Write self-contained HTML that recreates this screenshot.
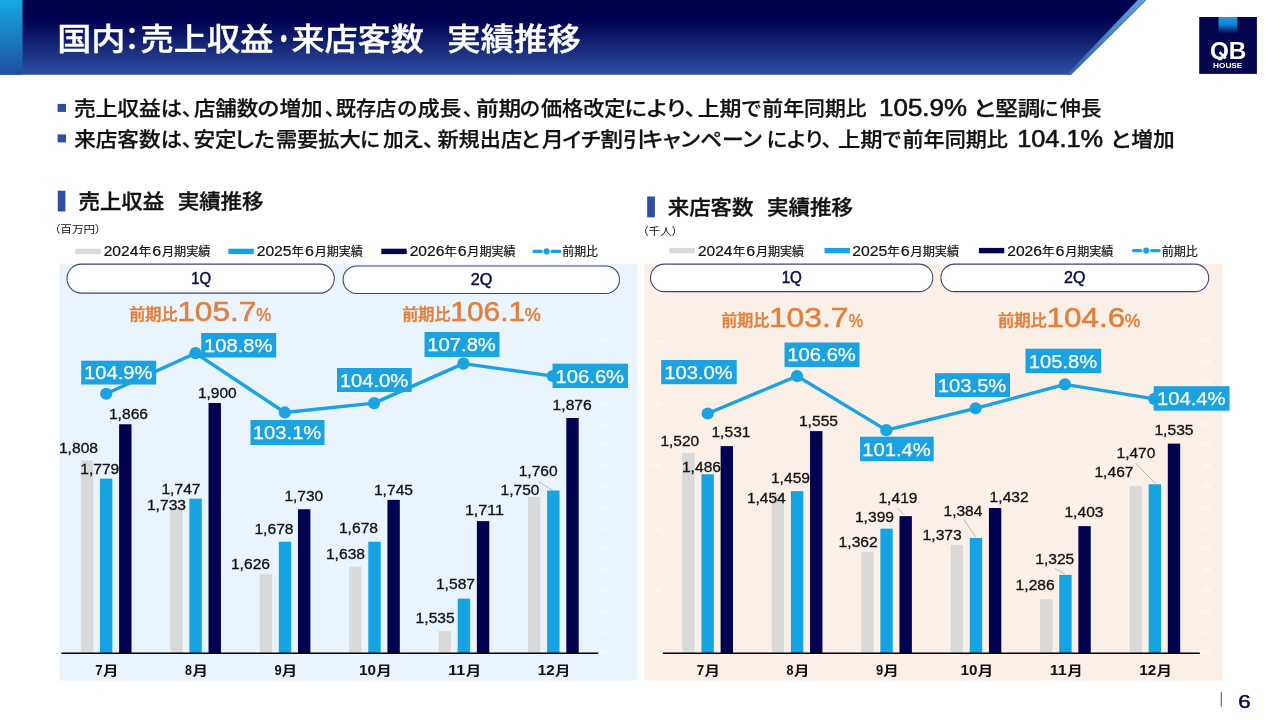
<!DOCTYPE html>
<html lang="ja"><head><meta charset="utf-8"><title>国内：売上収益・来店客数 実績推移</title>
<style>
html,body{margin:0;padding:0;background:#fff;}
body{width:1280px;height:720px;overflow:hidden;}
svg{display:block;font-family:"Liberation Sans", "Noto Sans CJK JP", sans-serif;}
text{white-space:pre;}
.p{font-feature-settings:"palt" 1;}
</style></head><body>
<svg width="1280" height="720" viewBox="0 0 1280 720">
<defs>
<linearGradient id="hg" x1="0" y1="0" x2="0" y2="1">
<stop offset="0" stop-color="#00004f"/><stop offset="0.25" stop-color="#00004f"/><stop offset="1" stop-color="#2e50a1"/>
</linearGradient>
<linearGradient id="lg" x1="0" y1="0" x2="0" y2="1">
<stop offset="0" stop-color="#16aae3"/><stop offset="1" stop-color="#204f9c"/>
</linearGradient>
<linearGradient id="sg" x1="0" y1="0" x2="0" y2="1">
<stop offset="0" stop-color="#5f9fd8"/><stop offset="1" stop-color="#3560b0"/>
</linearGradient>
<linearGradient id="qg" x1="0" y1="0" x2="0" y2="1">
<stop offset="0" stop-color="#1a9de2"/><stop offset="0.45" stop-color="#1484d0"/><stop offset="1" stop-color="#06064e"/>
</linearGradient>
<clipPath id="qc"><rect x="1200" y="30" width="57" height="30.2"/></clipPath>
</defs>
<polygon points="0,0 1146.2,0 1071,74.7 0,74.7" fill="url(#hg)"/>
<polygon points="1137.7,0 1146.2,0 1071,74.7 1066.5,74.7" fill="url(#sg)"/>
<rect x="0" y="0" width="22.5" height="74.7" fill="url(#lg)"/>
<text y="50.20" font-size="30.5" font-weight="500" fill="#fff" class="p" stroke="#fff" stroke-width="0.4"><tspan x="57.21" textLength="68.17" lengthAdjust="spacingAndGlyphs">国内</tspan><tspan x="124.84" textLength="14.52" lengthAdjust="spacingAndGlyphs">：</tspan><tspan x="140.64" textLength="132.67" lengthAdjust="spacingAndGlyphs">売上収益</tspan><tspan x="278.13" textLength="10.94" lengthAdjust="spacingAndGlyphs">・</tspan><tspan x="291.52" textLength="132.30" lengthAdjust="spacingAndGlyphs">来店客数</tspan><tspan x="424.00">　</tspan><tspan x="447.36" textLength="133.51" lengthAdjust="spacingAndGlyphs">実績推移</tspan></text>
<rect x="1199.2" y="17" width="57.7" height="56.9" fill="#06064e"/>
<rect x="1218.5" y="17" width="18.8" height="16.5" fill="url(#qg)"/>
<text x="1209.91" y="58.90" textLength="36.41" lengthAdjust="spacingAndGlyphs" font-size="24.6" font-weight="700" fill="#fff" clip-path="url(#qc)">QB</text>
<line x1="1219.6" y1="52.2" x2="1225.6" y2="58.4" stroke="#fff" stroke-width="2.6"/>
<text x="1213.03" y="67.60" textLength="29.33" lengthAdjust="spacingAndGlyphs" font-size="7.2" font-weight="700" fill="#fff">HOUSE</text>
<rect x="57.6" y="103.9" width="8.4" height="8.0" fill="#2f4ea3"/>
<rect x="57.6" y="134.4" width="8.4" height="8.0" fill="#2f4ea3"/>
<text y="116.40" font-size="20.7" font-weight="500" fill="#111" class="p" stroke="#111" stroke-width="0.25"><tspan x="73.95" textLength="86.85" lengthAdjust="spacingAndGlyphs">売上収益</tspan><tspan x="160.68" textLength="32.00" lengthAdjust="spacingAndGlyphs">は、</tspan><tspan x="193.92" textLength="64.17" lengthAdjust="spacingAndGlyphs">店舗数</tspan><tspan x="257.34" textLength="21.78" lengthAdjust="spacingAndGlyphs">の</tspan><tspan x="279.52" textLength="43.19" lengthAdjust="spacingAndGlyphs">増加</tspan><tspan x="325.00">、</tspan><tspan x="335.77" textLength="60.54" lengthAdjust="spacingAndGlyphs">既存店</tspan><tspan x="397.25" textLength="19.95" lengthAdjust="spacingAndGlyphs">の</tspan><tspan x="417.71" textLength="43.73" lengthAdjust="spacingAndGlyphs">成長</tspan><tspan x="463.00">、</tspan><tspan x="475.91" textLength="45.11" lengthAdjust="spacingAndGlyphs">前期</tspan><tspan x="519.94" textLength="20.07" lengthAdjust="spacingAndGlyphs">の</tspan><tspan x="540.99" textLength="84.49" lengthAdjust="spacingAndGlyphs">価格改定</tspan><tspan x="624.49" textLength="71.68" lengthAdjust="spacingAndGlyphs">により、</tspan><tspan x="697.69" textLength="43.78" lengthAdjust="spacingAndGlyphs">上期</tspan><tspan x="741.74" textLength="19.39" lengthAdjust="spacingAndGlyphs">で</tspan><tspan x="762.39" textLength="104.26" lengthAdjust="spacingAndGlyphs">前年同期比</tspan><tspan x="869.00"> </tspan><tspan x="879.11" font-size="24.0" stroke-width="0.6" textLength="87.87" lengthAdjust="spacingAndGlyphs">105.9%</tspan><tspan x="968.00"> </tspan><tspan x="973.03" textLength="22.29" lengthAdjust="spacingAndGlyphs">と</tspan><tspan x="995.21" textLength="45.05" lengthAdjust="spacingAndGlyphs">堅調</tspan><tspan x="1038.78" textLength="19.62" lengthAdjust="spacingAndGlyphs">に</tspan><tspan x="1060.05" textLength="41.44" lengthAdjust="spacingAndGlyphs">伸長</tspan></text>
<text y="147.40" font-size="20.7" font-weight="500" fill="#111" class="p" stroke="#111" stroke-width="0.25"><tspan x="74.22" textLength="86.32" lengthAdjust="spacingAndGlyphs">来店客数</tspan><tspan x="160.68" textLength="32.00" lengthAdjust="spacingAndGlyphs">は、</tspan><tspan x="193.40" textLength="43.03" lengthAdjust="spacingAndGlyphs">安定</tspan><tspan x="235.31" textLength="39.55" lengthAdjust="spacingAndGlyphs">した</tspan><tspan x="275.92" textLength="84.87" lengthAdjust="spacingAndGlyphs">需要拡大</tspan><tspan x="360.28" textLength="19.62" lengthAdjust="spacingAndGlyphs">に</tspan><tspan x="383.00" textLength="20.70" lengthAdjust="spacingAndGlyphs">加</tspan><tspan x="402.60" textLength="31.48" lengthAdjust="spacingAndGlyphs">え、</tspan><tspan x="437.49" textLength="84.55" lengthAdjust="spacingAndGlyphs">新規出店</tspan><tspan x="520.32" textLength="19.25" lengthAdjust="spacingAndGlyphs">と</tspan><tspan x="541.70" textLength="21.96" lengthAdjust="spacingAndGlyphs">月</tspan><tspan x="562.27" textLength="38.38" lengthAdjust="spacingAndGlyphs">イチ</tspan><tspan x="600.41" textLength="45.00" lengthAdjust="spacingAndGlyphs">割引</tspan><tspan x="642.42" textLength="119.54" lengthAdjust="spacingAndGlyphs">キャンペーン</tspan><tspan x="766.70" textLength="65.66" lengthAdjust="spacingAndGlyphs">により、</tspan><tspan x="837.92" textLength="44.57" lengthAdjust="spacingAndGlyphs">上期</tspan><tspan x="882.26" textLength="18.86" lengthAdjust="spacingAndGlyphs">で</tspan><tspan x="902.48" textLength="105.48" lengthAdjust="spacingAndGlyphs">前年同期比</tspan><tspan x="1009.00"> </tspan><tspan x="1017.15" font-size="24.0" stroke-width="0.6" textLength="86.01" lengthAdjust="spacingAndGlyphs">104.1%</tspan><tspan x="1104.00"> </tspan><tspan x="1110.14" textLength="20.26" lengthAdjust="spacingAndGlyphs">と</tspan><tspan x="1131.21" textLength="43.51" lengthAdjust="spacingAndGlyphs">増加</tspan></text>
<rect x="57.8" y="190.7" width="7.6" height="20.8" fill="#2f4ea3"/>
<text y="209.20" font-size="20.7" font-weight="500" fill="#111" class="p" stroke="#111" stroke-width="0.35"><tspan x="78.57" textLength="85.63" lengthAdjust="spacingAndGlyphs">売上収益</tspan><tspan x="164.00">　</tspan><tspan x="177.70" textLength="85.89" lengthAdjust="spacingAndGlyphs">実績推移</tspan></text>
<text y="232.70" font-size="10.3" font-weight="400" fill="#111" class="p"><tspan x="54.48" textLength="46.47" lengthAdjust="spacingAndGlyphs">（百万円）</tspan></text>
<rect x="647.2" y="196.5" width="7.7" height="20.8" fill="#2f4ea3"/>
<text y="214.90" font-size="20.7" font-weight="500" fill="#111" class="p" stroke="#111" stroke-width="0.35"><tspan x="667.72" textLength="85.71" lengthAdjust="spacingAndGlyphs">来店客数</tspan><tspan x="753.50">　</tspan><tspan x="767.10" textLength="85.94" lengthAdjust="spacingAndGlyphs">実績推移</tspan></text>
<text y="235.10" font-size="10.3" font-weight="400" fill="#111" class="p"><tspan x="642.53" textLength="35.41" lengthAdjust="spacingAndGlyphs">（千人）</tspan></text>
<rect x="75.50" y="248.70" width="25.4" height="5.4" fill="#d9d9d9"/>
<text y="256.40" font-size="12.3" font-weight="400" fill="#111" stroke="#111" stroke-width="0.2"><tspan x="103.66" font-size="14" textLength="34.78" lengthAdjust="spacingAndGlyphs">2024</tspan><tspan x="138.58" textLength="12.69" lengthAdjust="spacingAndGlyphs">年</tspan><tspan x="152.25" font-size="14" textLength="8.95" lengthAdjust="spacingAndGlyphs">6</tspan><tspan x="161.90" textLength="48.55" lengthAdjust="spacingAndGlyphs">月期実績</tspan></text>
<rect x="228.30" y="248.70" width="25.4" height="5.4" fill="#15a3e1"/>
<text y="256.40" font-size="12.3" font-weight="400" fill="#111" stroke="#111" stroke-width="0.2"><tspan x="256.66" font-size="14" textLength="34.90" lengthAdjust="spacingAndGlyphs">2025</tspan><tspan x="291.42" textLength="12.63" lengthAdjust="spacingAndGlyphs">年</tspan><tspan x="305.03" font-size="14" textLength="8.91" lengthAdjust="spacingAndGlyphs">6</tspan><tspan x="314.63" textLength="48.32" lengthAdjust="spacingAndGlyphs">月期実績</tspan></text>
<rect x="381.30" y="248.70" width="25.4" height="5.4" fill="#02024f"/>
<text y="256.40" font-size="12.3" font-weight="400" fill="#111" stroke="#111" stroke-width="0.2"><tspan x="409.66" font-size="14" textLength="34.74" lengthAdjust="spacingAndGlyphs">2026</tspan><tspan x="444.26" textLength="12.57" lengthAdjust="spacingAndGlyphs">年</tspan><tspan x="457.80" font-size="14" textLength="8.87" lengthAdjust="spacingAndGlyphs">6</tspan><tspan x="467.36" textLength="48.09" lengthAdjust="spacingAndGlyphs">月期実績</tspan></text>
<line x1="534.00" y1="251.4" x2="541.20" y2="251.4" stroke="#1aa3e0" stroke-width="3.2" stroke-linecap="round"/>
<line x1="552.00" y1="251.4" x2="559.70" y2="251.4" stroke="#1aa3e0" stroke-width="3.2" stroke-linecap="round"/>
<circle cx="546.60" cy="251.4" r="3.1" fill="#1aa3e0"/>
<text x="562.28" y="256.40" textLength="35.62" lengthAdjust="spacingAndGlyphs" font-size="12.3" font-weight="400" fill="#111" stroke="#111" stroke-width="0.2">前期比</text>
<rect x="669.50" y="247.90" width="25.4" height="5.4" fill="#d9d9d9"/>
<text y="255.60" font-size="12.3" font-weight="400" fill="#111" stroke="#111" stroke-width="0.2"><tspan x="697.92" font-size="14" textLength="34.61" lengthAdjust="spacingAndGlyphs">2024</tspan><tspan x="732.67" textLength="12.63" lengthAdjust="spacingAndGlyphs">年</tspan><tspan x="746.28" font-size="14" textLength="8.91" lengthAdjust="spacingAndGlyphs">6</tspan><tspan x="755.88" textLength="48.32" lengthAdjust="spacingAndGlyphs">月期実績</tspan></text>
<rect x="824.50" y="247.90" width="25.4" height="5.4" fill="#15a3e1"/>
<text y="255.60" font-size="12.3" font-weight="400" fill="#111" stroke="#111" stroke-width="0.2"><tspan x="852.15" font-size="14" textLength="35.15" lengthAdjust="spacingAndGlyphs">2025</tspan><tspan x="887.16" textLength="12.72" lengthAdjust="spacingAndGlyphs">年</tspan><tspan x="900.87" font-size="14" textLength="8.97" lengthAdjust="spacingAndGlyphs">6</tspan><tspan x="910.54" textLength="48.66" lengthAdjust="spacingAndGlyphs">月期実績</tspan></text>
<rect x="978.90" y="247.90" width="25.4" height="5.4" fill="#02024f"/>
<text y="255.60" font-size="12.3" font-weight="400" fill="#111" stroke="#111" stroke-width="0.2"><tspan x="1007.16" font-size="14" textLength="34.90" lengthAdjust="spacingAndGlyphs">2026</tspan><tspan x="1041.92" textLength="12.63" lengthAdjust="spacingAndGlyphs">年</tspan><tspan x="1055.53" font-size="14" textLength="8.91" lengthAdjust="spacingAndGlyphs">6</tspan><tspan x="1065.13" textLength="48.32" lengthAdjust="spacingAndGlyphs">月期実績</tspan></text>
<line x1="1133.50" y1="250.6" x2="1140.80" y2="250.6" stroke="#1aa3e0" stroke-width="3.2" stroke-linecap="round"/>
<line x1="1151.60" y1="250.6" x2="1159.00" y2="250.6" stroke="#1aa3e0" stroke-width="3.2" stroke-linecap="round"/>
<circle cx="1146.20" cy="250.6" r="3.1" fill="#1aa3e0"/>
<text x="1161.77" y="255.60" textLength="36.13" lengthAdjust="spacingAndGlyphs" font-size="12.3" font-weight="400" fill="#111" stroke="#111" stroke-width="0.2">前期比</text>
<rect x="59.5" y="264" width="577.5" height="416.5" fill="#e9f4fc"/>
<rect x="67" y="264.1" width="267.3" height="29.0" rx="14.5" fill="#fff" stroke="#3f4379" stroke-width="1.05"/>
<text x="191.21" y="284.20" textLength="19.87" lengthAdjust="spacingAndGlyphs" font-size="15.6" font-weight="400" fill="#0d0f4d" stroke="#0d0f4d" stroke-width="0.5">1Q</text>
<rect x="343.1" y="265.9" width="276.4" height="27.5" rx="13.75" fill="#fff" stroke="#3f4379" stroke-width="1.05"/>
<text x="470.82" y="285.25" textLength="21.62" lengthAdjust="spacingAndGlyphs" font-size="15.6" font-weight="400" fill="#0d0f4d" stroke="#0d0f4d" stroke-width="0.5">2Q</text>
<text x="609.50" y="654.40" text-anchor="end" font-size="4" font-weight="400" fill="#fff">80%</text>
<text x="609.50" y="633.60" text-anchor="end" font-size="4" font-weight="400" fill="#fff">82%</text>
<text x="609.50" y="612.80" text-anchor="end" font-size="4" font-weight="400" fill="#fff">84%</text>
<text x="609.50" y="592.00" text-anchor="end" font-size="4" font-weight="400" fill="#fff">86%</text>
<text x="609.50" y="571.20" text-anchor="end" font-size="4" font-weight="400" fill="#fff">88%</text>
<text x="609.50" y="550.40" text-anchor="end" font-size="4" font-weight="400" fill="#fff">90%</text>
<text x="609.50" y="529.60" text-anchor="end" font-size="4" font-weight="400" fill="#fff">92%</text>
<text x="609.50" y="508.80" text-anchor="end" font-size="4" font-weight="400" fill="#fff">94%</text>
<text x="609.50" y="488.00" text-anchor="end" font-size="4" font-weight="400" fill="#fff">96%</text>
<text x="609.50" y="467.20" text-anchor="end" font-size="4" font-weight="400" fill="#fff">98%</text>
<text x="609.50" y="446.40" text-anchor="end" font-size="4" font-weight="400" fill="#fff">100%</text>
<text x="609.50" y="425.60" text-anchor="end" font-size="4" font-weight="400" fill="#fff">102%</text>
<text x="609.50" y="404.80" text-anchor="end" font-size="4" font-weight="400" fill="#fff">104%</text>
<text x="609.50" y="384.00" text-anchor="end" font-size="4" font-weight="400" fill="#fff">106%</text>
<text x="609.50" y="363.20" text-anchor="end" font-size="4" font-weight="400" fill="#fff">108%</text>
<text x="609.50" y="342.40" text-anchor="end" font-size="4" font-weight="400" fill="#fff">110%</text>
<rect x="80.80" y="460.50" width="12.4" height="192.50" fill="#d9d9d9"/>
<rect x="99.95" y="478.62" width="12.4" height="174.38" fill="#15a3e1"/>
<rect x="119.10" y="424.25" width="12.4" height="228.75" fill="#02024f"/>
<rect x="170.24" y="507.38" width="12.4" height="145.62" fill="#d9d9d9"/>
<rect x="189.39" y="498.62" width="12.4" height="154.38" fill="#15a3e1"/>
<rect x="208.54" y="403.00" width="12.4" height="250.00" fill="#02024f"/>
<rect x="259.68" y="574.25" width="12.4" height="78.75" fill="#d9d9d9"/>
<rect x="278.83" y="541.75" width="12.4" height="111.25" fill="#15a3e1"/>
<rect x="297.98" y="509.25" width="12.4" height="143.75" fill="#02024f"/>
<rect x="349.12" y="566.75" width="12.4" height="86.25" fill="#d9d9d9"/>
<rect x="368.27" y="541.75" width="12.4" height="111.25" fill="#15a3e1"/>
<rect x="387.42" y="499.88" width="12.4" height="153.12" fill="#02024f"/>
<rect x="438.56" y="631.12" width="12.4" height="21.88" fill="#d9d9d9"/>
<rect x="457.71" y="598.62" width="12.4" height="54.38" fill="#15a3e1"/>
<rect x="476.86" y="521.12" width="12.4" height="131.88" fill="#02024f"/>
<rect x="528.00" y="496.75" width="12.4" height="156.25" fill="#d9d9d9"/>
<rect x="547.15" y="490.50" width="12.4" height="162.50" fill="#15a3e1"/>
<rect x="566.30" y="418.00" width="12.4" height="235.00" fill="#02024f"/>
<line x1="61.50" y1="653.2" x2="598.30" y2="653.2" stroke="#000" stroke-width="1.5"/>
<text y="675.00" font-size="12.7" font-weight="700" fill="#111"><tspan x="95.31" font-size="14.6" textLength="7.46" lengthAdjust="spacingAndGlyphs">7</tspan><tspan x="102.99" textLength="15.47" lengthAdjust="spacingAndGlyphs">月</tspan></text>
<text y="675.00" font-size="12.7" font-weight="700" fill="#111"><tspan x="185.02" font-size="14.6" textLength="6.95" lengthAdjust="spacingAndGlyphs">8</tspan><tspan x="192.44" textLength="15.47" lengthAdjust="spacingAndGlyphs">月</tspan></text>
<text y="675.00" font-size="12.7" font-weight="700" fill="#111"><tspan x="274.46" font-size="14.6" textLength="7.20" lengthAdjust="spacingAndGlyphs">9</tspan><tspan x="281.89" textLength="15.47" lengthAdjust="spacingAndGlyphs">月</tspan></text>
<text y="675.00" font-size="12.7" font-weight="700" fill="#111"><tspan x="358.91" font-size="14.6" textLength="16.95" lengthAdjust="spacingAndGlyphs">10</tspan><tspan x="376.24" textLength="15.47" lengthAdjust="spacingAndGlyphs">月</tspan></text>
<text y="675.00" font-size="12.7" font-weight="700" fill="#111"><tspan x="448.30" font-size="14.6" textLength="16.98" lengthAdjust="spacingAndGlyphs">11</tspan><tspan x="465.69" textLength="15.47" lengthAdjust="spacingAndGlyphs">月</tspan></text>
<text y="675.00" font-size="12.7" font-weight="700" fill="#111"><tspan x="537.81" font-size="14.6" textLength="16.95" lengthAdjust="spacingAndGlyphs">12</tspan><tspan x="555.14" textLength="15.47" lengthAdjust="spacingAndGlyphs">月</tspan></text>
<line x1="539" y1="481.7" x2="552.8" y2="490.7" stroke="#a6a6a6" stroke-width="0.8"/>
<polyline fill="none" stroke="#1aa3e0" stroke-width="3.4" stroke-linejoin="round" points="106.20,393.74 195.50,353.18 284.80,412.46 374.10,403.10 463.40,363.58 552.70,376.06"/>
<circle cx="106.20" cy="393.74" r="6.1" fill="#1aa3e0"/>
<circle cx="195.50" cy="353.18" r="6.1" fill="#1aa3e0"/>
<circle cx="284.80" cy="412.46" r="6.1" fill="#1aa3e0"/>
<circle cx="374.10" cy="403.10" r="6.1" fill="#1aa3e0"/>
<circle cx="463.40" cy="363.58" r="6.1" fill="#1aa3e0"/>
<circle cx="552.70" cy="376.06" r="6.1" fill="#1aa3e0"/>
<rect x="81.2" y="360.7" width="74.99999999999999" height="23.80000000000001" fill="#1aa3e0"/>
<text x="84.04" y="379.30" textLength="68.50" lengthAdjust="spacingAndGlyphs" font-size="18.3" font-weight="400" fill="#fff" stroke="#fff" stroke-width="0.25">104.9%</text>
<rect x="201.2" y="333" width="75.0" height="24.5" fill="#1aa3e0"/>
<text x="204.04" y="351.95" textLength="68.50" lengthAdjust="spacingAndGlyphs" font-size="18.3" font-weight="400" fill="#fff" stroke="#fff" stroke-width="0.25">108.8%</text>
<rect x="250.5" y="420" width="74.0" height="25" fill="#1aa3e0"/>
<text x="252.84" y="439.20" textLength="68.50" lengthAdjust="spacingAndGlyphs" font-size="18.3" font-weight="400" fill="#fff" stroke="#fff" stroke-width="0.25">103.1%</text>
<rect x="337" y="368" width="74.69999999999999" height="24" fill="#1aa3e0"/>
<text x="339.69" y="386.70" textLength="68.50" lengthAdjust="spacingAndGlyphs" font-size="18.3" font-weight="400" fill="#fff" stroke="#fff" stroke-width="0.25">104.0%</text>
<rect x="424.5" y="332" width="75.0" height="25" fill="#1aa3e0"/>
<text x="427.34" y="351.20" textLength="68.50" lengthAdjust="spacingAndGlyphs" font-size="18.3" font-weight="400" fill="#fff" stroke="#fff" stroke-width="0.25">107.8%</text>
<rect x="552.5" y="363.7" width="75.5" height="24.30000000000001" fill="#1aa3e0"/>
<text x="555.59" y="382.55" textLength="68.50" lengthAdjust="spacingAndGlyphs" font-size="18.3" font-weight="400" fill="#fff" stroke="#fff" stroke-width="0.25">106.6%</text>
<text x="58.94" y="452.90" textLength="39.08" lengthAdjust="spacingAndGlyphs" font-size="14.7" font-weight="400" fill="#111" stroke="#111" stroke-width="0.3">1,808</text>
<text x="80.24" y="474.40" textLength="39.08" lengthAdjust="spacingAndGlyphs" font-size="14.7" font-weight="400" fill="#111" stroke="#111" stroke-width="0.3">1,779</text>
<text x="108.94" y="418.90" textLength="39.08" lengthAdjust="spacingAndGlyphs" font-size="14.7" font-weight="400" fill="#111" stroke="#111" stroke-width="0.3">1,866</text>
<text x="197.94" y="397.90" textLength="38.80" lengthAdjust="spacingAndGlyphs" font-size="14.7" font-weight="400" fill="#111" stroke="#111" stroke-width="0.3">1,900</text>
<text x="161.44" y="493.90" textLength="39.08" lengthAdjust="spacingAndGlyphs" font-size="14.7" font-weight="400" fill="#111" stroke="#111" stroke-width="0.3">1,747</text>
<text x="146.94" y="509.90" textLength="39.08" lengthAdjust="spacingAndGlyphs" font-size="14.7" font-weight="400" fill="#111" stroke="#111" stroke-width="0.3">1,733</text>
<text x="230.94" y="569.40" textLength="39.08" lengthAdjust="spacingAndGlyphs" font-size="14.7" font-weight="400" fill="#111" stroke="#111" stroke-width="0.3">1,626</text>
<text x="254.44" y="534.40" textLength="39.08" lengthAdjust="spacingAndGlyphs" font-size="14.7" font-weight="400" fill="#111" stroke="#111" stroke-width="0.3">1,678</text>
<text x="284.44" y="500.90" textLength="38.80" lengthAdjust="spacingAndGlyphs" font-size="14.7" font-weight="400" fill="#111" stroke="#111" stroke-width="0.3">1,730</text>
<text x="325.94" y="558.90" textLength="39.08" lengthAdjust="spacingAndGlyphs" font-size="14.7" font-weight="400" fill="#111" stroke="#111" stroke-width="0.3">1,638</text>
<text x="338.94" y="532.90" textLength="39.08" lengthAdjust="spacingAndGlyphs" font-size="14.7" font-weight="400" fill="#111" stroke="#111" stroke-width="0.3">1,678</text>
<text x="373.94" y="494.90" textLength="39.08" lengthAdjust="spacingAndGlyphs" font-size="14.7" font-weight="400" fill="#111" stroke="#111" stroke-width="0.3">1,745</text>
<text x="415.64" y="623.40" textLength="39.08" lengthAdjust="spacingAndGlyphs" font-size="14.7" font-weight="400" fill="#111" stroke="#111" stroke-width="0.3">1,535</text>
<text x="435.94" y="589.40" textLength="39.08" lengthAdjust="spacingAndGlyphs" font-size="14.7" font-weight="400" fill="#111" stroke="#111" stroke-width="0.3">1,587</text>
<text x="464.91" y="514.90" textLength="39.03" lengthAdjust="spacingAndGlyphs" font-size="14.7" font-weight="400" fill="#111" stroke="#111" stroke-width="0.3">1,711</text>
<text x="500.64" y="495.40" textLength="38.80" lengthAdjust="spacingAndGlyphs" font-size="14.7" font-weight="400" fill="#111" stroke="#111" stroke-width="0.3">1,750</text>
<text x="518.74" y="476.40" textLength="38.80" lengthAdjust="spacingAndGlyphs" font-size="14.7" font-weight="400" fill="#111" stroke="#111" stroke-width="0.3">1,760</text>
<text x="552.64" y="409.60" textLength="39.08" lengthAdjust="spacingAndGlyphs" font-size="14.7" font-weight="400" fill="#111" stroke="#111" stroke-width="0.3">1,876</text>
<text x="129.25" y="319.90" textLength="48.27" lengthAdjust="spacingAndGlyphs" font-size="16" font-weight="500" fill="#e0803d" stroke="#e0803d" stroke-width="0.45">前期比</text>
<text x="177.22" y="321.30" textLength="79.27" lengthAdjust="spacingAndGlyphs" font-size="27.8" font-weight="400" fill="#e0803d" stroke="#e0803d" stroke-width="0.5">105.7</text>
<text x="256.30" y="321.30" textLength="14.91" lengthAdjust="spacingAndGlyphs" font-size="18" font-weight="400" fill="#e0803d" stroke="#e0803d" stroke-width="0.5">%</text>
<text x="402.25" y="319.90" textLength="48.27" lengthAdjust="spacingAndGlyphs" font-size="16" font-weight="500" fill="#e0803d" stroke="#e0803d" stroke-width="0.45">前期比</text>
<text x="450.35" y="321.30" textLength="74.76" lengthAdjust="spacingAndGlyphs" font-size="27.8" font-weight="400" fill="#e0803d" stroke="#e0803d" stroke-width="0.5">106.1</text>
<text x="524.75" y="321.30" textLength="16.02" lengthAdjust="spacingAndGlyphs" font-size="18" font-weight="400" fill="#e0803d" stroke="#e0803d" stroke-width="0.5">%</text>
<rect x="644.5" y="264" width="578.0" height="416.5" fill="#fbf0e8"/>
<rect x="650.5" y="264.1" width="282.29999999999995" height="27.5" rx="13.75" fill="#fff" stroke="#3f4379" stroke-width="1.05"/>
<text x="781.69" y="283.45" textLength="20.20" lengthAdjust="spacingAndGlyphs" font-size="15.6" font-weight="400" fill="#0d0f4d" stroke="#0d0f4d" stroke-width="0.5">1Q</text>
<rect x="940.9" y="264.1" width="267.80000000000007" height="27.5" rx="13.75" fill="#fff" stroke="#3f4379" stroke-width="1.05"/>
<text x="1064.13" y="283.45" textLength="21.30" lengthAdjust="spacingAndGlyphs" font-size="15.6" font-weight="400" fill="#0d0f4d" stroke="#0d0f4d" stroke-width="0.5">2Q</text>
<text x="1211.00" y="654.40" text-anchor="end" font-size="4" font-weight="400" fill="#fff">80%</text>
<text x="1211.00" y="633.60" text-anchor="end" font-size="4" font-weight="400" fill="#fff">82%</text>
<text x="1211.00" y="612.80" text-anchor="end" font-size="4" font-weight="400" fill="#fff">84%</text>
<text x="1211.00" y="592.00" text-anchor="end" font-size="4" font-weight="400" fill="#fff">86%</text>
<text x="1211.00" y="571.20" text-anchor="end" font-size="4" font-weight="400" fill="#fff">88%</text>
<text x="1211.00" y="550.40" text-anchor="end" font-size="4" font-weight="400" fill="#fff">90%</text>
<text x="1211.00" y="529.60" text-anchor="end" font-size="4" font-weight="400" fill="#fff">92%</text>
<text x="1211.00" y="508.80" text-anchor="end" font-size="4" font-weight="400" fill="#fff">94%</text>
<text x="1211.00" y="488.00" text-anchor="end" font-size="4" font-weight="400" fill="#fff">96%</text>
<text x="1211.00" y="467.20" text-anchor="end" font-size="4" font-weight="400" fill="#fff">98%</text>
<text x="1211.00" y="446.40" text-anchor="end" font-size="4" font-weight="400" fill="#fff">100%</text>
<text x="1211.00" y="425.60" text-anchor="end" font-size="4" font-weight="400" fill="#fff">102%</text>
<text x="1211.00" y="404.80" text-anchor="end" font-size="4" font-weight="400" fill="#fff">104%</text>
<text x="1211.00" y="384.00" text-anchor="end" font-size="4" font-weight="400" fill="#fff">106%</text>
<text x="1211.00" y="363.20" text-anchor="end" font-size="4" font-weight="400" fill="#fff">108%</text>
<text x="1211.00" y="342.40" text-anchor="end" font-size="4" font-weight="400" fill="#fff">110%</text>
<text x="661.50" y="654.60" text-anchor="end" font-size="4" font-weight="400" fill="#fff">1,200</text>
<text x="661.50" y="592.20" text-anchor="end" font-size="4" font-weight="400" fill="#fff">1,300</text>
<text x="661.50" y="529.80" text-anchor="end" font-size="4" font-weight="400" fill="#fff">1,400</text>
<text x="661.50" y="467.40" text-anchor="end" font-size="4" font-weight="400" fill="#fff">1,500</text>
<text x="661.50" y="405.00" text-anchor="end" font-size="4" font-weight="400" fill="#fff">1,600</text>
<text x="661.50" y="342.60" text-anchor="end" font-size="4" font-weight="400" fill="#fff">1,700</text>
<rect x="682.30" y="453.00" width="12.4" height="200.00" fill="#d9d9d9"/>
<rect x="701.45" y="474.25" width="12.4" height="178.75" fill="#15a3e1"/>
<rect x="720.60" y="446.12" width="12.4" height="206.88" fill="#02024f"/>
<rect x="771.74" y="494.25" width="12.4" height="158.75" fill="#d9d9d9"/>
<rect x="790.89" y="491.12" width="12.4" height="161.88" fill="#15a3e1"/>
<rect x="810.04" y="431.12" width="12.4" height="221.88" fill="#02024f"/>
<rect x="861.18" y="551.75" width="12.4" height="101.25" fill="#d9d9d9"/>
<rect x="880.33" y="528.62" width="12.4" height="124.38" fill="#15a3e1"/>
<rect x="899.48" y="516.12" width="12.4" height="136.88" fill="#02024f"/>
<rect x="950.62" y="544.88" width="12.4" height="108.12" fill="#d9d9d9"/>
<rect x="969.77" y="538.00" width="12.4" height="115.00" fill="#15a3e1"/>
<rect x="988.92" y="508.00" width="12.4" height="145.00" fill="#02024f"/>
<rect x="1040.06" y="599.25" width="12.4" height="53.75" fill="#d9d9d9"/>
<rect x="1059.21" y="574.88" width="12.4" height="78.12" fill="#15a3e1"/>
<rect x="1078.36" y="526.12" width="12.4" height="126.88" fill="#02024f"/>
<rect x="1129.50" y="486.12" width="12.4" height="166.88" fill="#d9d9d9"/>
<rect x="1148.65" y="484.25" width="12.4" height="168.75" fill="#15a3e1"/>
<rect x="1167.80" y="443.62" width="12.4" height="209.38" fill="#02024f"/>
<line x1="663.00" y1="653.2" x2="1199.80" y2="653.2" stroke="#000" stroke-width="1.5"/>
<text y="675.00" font-size="12.7" font-weight="700" fill="#111"><tspan x="696.81" font-size="14.6" textLength="7.46" lengthAdjust="spacingAndGlyphs">7</tspan><tspan x="704.49" textLength="15.47" lengthAdjust="spacingAndGlyphs">月</tspan></text>
<text y="675.00" font-size="12.7" font-weight="700" fill="#111"><tspan x="786.52" font-size="14.6" textLength="6.95" lengthAdjust="spacingAndGlyphs">8</tspan><tspan x="793.94" textLength="15.47" lengthAdjust="spacingAndGlyphs">月</tspan></text>
<text y="675.00" font-size="12.7" font-weight="700" fill="#111"><tspan x="875.96" font-size="14.6" textLength="7.20" lengthAdjust="spacingAndGlyphs">9</tspan><tspan x="883.39" textLength="15.47" lengthAdjust="spacingAndGlyphs">月</tspan></text>
<text y="675.00" font-size="12.7" font-weight="700" fill="#111"><tspan x="960.41" font-size="14.6" textLength="16.95" lengthAdjust="spacingAndGlyphs">10</tspan><tspan x="977.74" textLength="15.47" lengthAdjust="spacingAndGlyphs">月</tspan></text>
<text y="675.00" font-size="12.7" font-weight="700" fill="#111"><tspan x="1049.80" font-size="14.6" textLength="16.98" lengthAdjust="spacingAndGlyphs">11</tspan><tspan x="1067.19" textLength="15.47" lengthAdjust="spacingAndGlyphs">月</tspan></text>
<text y="675.00" font-size="12.7" font-weight="700" fill="#111"><tspan x="1139.31" font-size="14.6" textLength="16.95" lengthAdjust="spacingAndGlyphs">12</tspan><tspan x="1156.64" textLength="15.47" lengthAdjust="spacingAndGlyphs">月</tspan></text>
<line x1="897.7" y1="508.4" x2="904.6" y2="515.3" stroke="#a6a6a6" stroke-width="0.8"/>
<line x1="963.7" y1="519.2" x2="975.8" y2="537.2" stroke="#a6a6a6" stroke-width="0.8"/>
<line x1="1055" y1="568.5" x2="1064.4" y2="574" stroke="#a6a6a6" stroke-width="0.8"/>
<line x1="1135.6" y1="463.1" x2="1155.5" y2="483.7" stroke="#a6a6a6" stroke-width="0.8"/>
<polyline fill="none" stroke="#1aa3e0" stroke-width="3.4" stroke-linejoin="round" points="707.70,413.50 797.00,376.06 886.30,430.14 975.60,408.30 1064.90,384.38 1154.20,398.94"/>
<circle cx="707.70" cy="413.50" r="6.1" fill="#1aa3e0"/>
<circle cx="797.00" cy="376.06" r="6.1" fill="#1aa3e0"/>
<circle cx="886.30" cy="430.14" r="6.1" fill="#1aa3e0"/>
<circle cx="975.60" cy="408.30" r="6.1" fill="#1aa3e0"/>
<circle cx="1064.90" cy="384.38" r="6.1" fill="#1aa3e0"/>
<circle cx="1154.20" cy="398.94" r="6.1" fill="#1aa3e0"/>
<rect x="661.2" y="360" width="75.5" height="24.19999999999999" fill="#1aa3e0"/>
<text x="664.29" y="378.80" textLength="68.50" lengthAdjust="spacingAndGlyphs" font-size="18.3" font-weight="400" fill="#fff" stroke="#fff" stroke-width="0.25">103.0%</text>
<rect x="784.5" y="342.5" width="75.0" height="24.5" fill="#1aa3e0"/>
<text x="787.34" y="361.45" textLength="68.50" lengthAdjust="spacingAndGlyphs" font-size="18.3" font-weight="400" fill="#fff" stroke="#fff" stroke-width="0.25">106.6%</text>
<rect x="860" y="436.7" width="73.70000000000005" height="24.5" fill="#1aa3e0"/>
<text x="862.19" y="455.65" textLength="68.50" lengthAdjust="spacingAndGlyphs" font-size="18.3" font-weight="400" fill="#fff" stroke="#fff" stroke-width="0.25">101.4%</text>
<rect x="935" y="373.2" width="75" height="23.80000000000001" fill="#1aa3e0"/>
<text x="937.84" y="391.80" textLength="68.50" lengthAdjust="spacingAndGlyphs" font-size="18.3" font-weight="400" fill="#fff" stroke="#fff" stroke-width="0.25">103.5%</text>
<rect x="1025.5" y="348.7" width="75.70000000000005" height="24.5" fill="#1aa3e0"/>
<text x="1028.69" y="367.65" textLength="68.50" lengthAdjust="spacingAndGlyphs" font-size="18.3" font-weight="400" fill="#fff" stroke="#fff" stroke-width="0.25">105.8%</text>
<rect x="1153.7" y="386.2" width="75.79999999999995" height="24.5" fill="#1aa3e0"/>
<text x="1156.94" y="405.15" textLength="68.50" lengthAdjust="spacingAndGlyphs" font-size="18.3" font-weight="400" fill="#fff" stroke="#fff" stroke-width="0.25">104.4%</text>
<text x="660.44" y="445.50" textLength="38.80" lengthAdjust="spacingAndGlyphs" font-size="14.7" font-weight="400" fill="#111" stroke="#111" stroke-width="0.3">1,520</text>
<text x="681.94" y="472.10" textLength="39.08" lengthAdjust="spacingAndGlyphs" font-size="14.7" font-weight="400" fill="#111" stroke="#111" stroke-width="0.3">1,486</text>
<text x="711.44" y="436.90" textLength="39.08" lengthAdjust="spacingAndGlyphs" font-size="14.7" font-weight="400" fill="#111" stroke="#111" stroke-width="0.3">1,531</text>
<text x="798.94" y="425.90" textLength="39.08" lengthAdjust="spacingAndGlyphs" font-size="14.7" font-weight="400" fill="#111" stroke="#111" stroke-width="0.3">1,555</text>
<text x="770.94" y="482.50" textLength="39.08" lengthAdjust="spacingAndGlyphs" font-size="14.7" font-weight="400" fill="#111" stroke="#111" stroke-width="0.3">1,459</text>
<text x="746.94" y="503.40" textLength="38.80" lengthAdjust="spacingAndGlyphs" font-size="14.7" font-weight="400" fill="#111" stroke="#111" stroke-width="0.3">1,454</text>
<text x="838.64" y="546.90" textLength="39.08" lengthAdjust="spacingAndGlyphs" font-size="14.7" font-weight="400" fill="#111" stroke="#111" stroke-width="0.3">1,362</text>
<text x="854.94" y="521.60" textLength="39.08" lengthAdjust="spacingAndGlyphs" font-size="14.7" font-weight="400" fill="#111" stroke="#111" stroke-width="0.3">1,399</text>
<text x="878.44" y="503.20" textLength="39.08" lengthAdjust="spacingAndGlyphs" font-size="14.7" font-weight="400" fill="#111" stroke="#111" stroke-width="0.3">1,419</text>
<text x="922.64" y="539.50" textLength="39.08" lengthAdjust="spacingAndGlyphs" font-size="14.7" font-weight="400" fill="#111" stroke="#111" stroke-width="0.3">1,373</text>
<text x="943.54" y="515.70" textLength="38.80" lengthAdjust="spacingAndGlyphs" font-size="14.7" font-weight="400" fill="#111" stroke="#111" stroke-width="0.3">1,384</text>
<text x="989.64" y="501.90" textLength="39.08" lengthAdjust="spacingAndGlyphs" font-size="14.7" font-weight="400" fill="#111" stroke="#111" stroke-width="0.3">1,432</text>
<text x="1015.64" y="590.20" textLength="39.08" lengthAdjust="spacingAndGlyphs" font-size="14.7" font-weight="400" fill="#111" stroke="#111" stroke-width="0.3">1,286</text>
<text x="1035.24" y="563.90" textLength="39.08" lengthAdjust="spacingAndGlyphs" font-size="14.7" font-weight="400" fill="#111" stroke="#111" stroke-width="0.3">1,325</text>
<text x="1064.44" y="517.10" textLength="39.08" lengthAdjust="spacingAndGlyphs" font-size="14.7" font-weight="400" fill="#111" stroke="#111" stroke-width="0.3">1,403</text>
<text x="1094.44" y="476.90" textLength="39.08" lengthAdjust="spacingAndGlyphs" font-size="14.7" font-weight="400" fill="#111" stroke="#111" stroke-width="0.3">1,467</text>
<text x="1116.54" y="458.10" textLength="38.80" lengthAdjust="spacingAndGlyphs" font-size="14.7" font-weight="400" fill="#111" stroke="#111" stroke-width="0.3">1,470</text>
<text x="1154.44" y="434.90" textLength="39.08" lengthAdjust="spacingAndGlyphs" font-size="14.7" font-weight="400" fill="#111" stroke="#111" stroke-width="0.3">1,535</text>
<text x="721.25" y="325.60" textLength="47.96" lengthAdjust="spacingAndGlyphs" font-size="16" font-weight="500" fill="#e0803d" stroke="#e0803d" stroke-width="0.45">前期比</text>
<text x="768.91" y="327.00" textLength="79.59" lengthAdjust="spacingAndGlyphs" font-size="27.8" font-weight="400" fill="#e0803d" stroke="#e0803d" stroke-width="0.5">103.7</text>
<text x="848.83" y="327.00" textLength="14.36" lengthAdjust="spacingAndGlyphs" font-size="18" font-weight="400" fill="#e0803d" stroke="#e0803d" stroke-width="0.5">%</text>
<text x="997.94" y="325.60" textLength="48.79" lengthAdjust="spacingAndGlyphs" font-size="16" font-weight="500" fill="#e0803d" stroke="#e0803d" stroke-width="0.45">前期比</text>
<text x="1046.44" y="327.00" textLength="78.75" lengthAdjust="spacingAndGlyphs" font-size="27.8" font-weight="400" fill="#e0803d" stroke="#e0803d" stroke-width="0.5">104.6</text>
<text x="1124.78" y="327.00" textLength="15.46" lengthAdjust="spacingAndGlyphs" font-size="18" font-weight="400" fill="#e0803d" stroke="#e0803d" stroke-width="0.5">%</text>
<rect x="1220.7" y="692" width="1.3" height="14.8" fill="#7a7a7a"/>
<text x="1238.23" y="707.70" textLength="12.44" lengthAdjust="spacingAndGlyphs" font-size="19.2" font-weight="400" fill="#0b0b4b" stroke="#0b0b4b" stroke-width="0.55">6</text>
</svg>
</body></html>
